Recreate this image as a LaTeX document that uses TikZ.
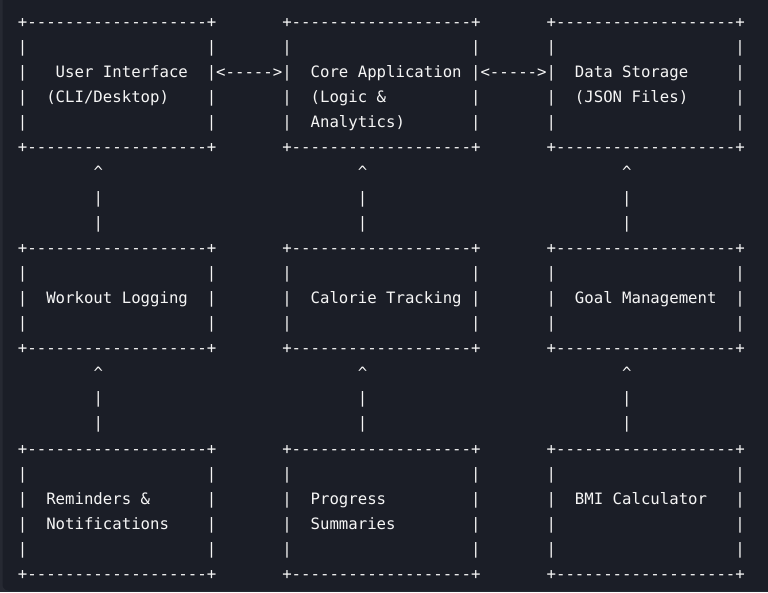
\documentclass[tikz,border=0pt]{standalone}
\usepackage{fontspec}
\setmonofont{DejaVu Sans Mono}
\definecolor{termbg}{RGB}{27,30,39}
\definecolor{termedge}{RGB}{38,41,50}
\definecolor{termfg}{RGB}{246,246,246}
\newcommand{\edgerow}{+-------------------+}
\newcommand{\blankrow}{|~~~~~~~~~~~~~~~~~~~|}

\begin{document}
\begin{tikzpicture}[
        x=9.44pt, y=-25.1pt,
        every node/.style={inner sep=0pt, outer sep=0pt, text=termfg, align=left,
            font=\ttfamily\fontsize{15.68}{25.1}\selectfont\frenchspacing},
        box/.style={anchor=north west, yshift=17.57pt},
        link/.style={anchor=base west}
    ]

    \useasboundingbox (0pt,0pt) rectangle (768pt,-592pt);
    \fill[termedge] (0pt,0pt) rectangle (768pt,-592pt);
    \fill[termbg, rounded corners=6pt] (2.5pt,8pt) rectangle (776pt,-590.5pt);

    \begin{scope}[shift={(17.98pt,-27.3pt)}]
    % top row
    \node[box] (ui) at (0,0) {\strut\edgerow\\ \blankrow\\ |~~~User~Interface~~|\\ |~~(CLI/Desktop)~~~~|\\ \blankrow\\ \edgerow};
    \node[box] (core) at (28,0) {\strut\edgerow\\ \blankrow\\ |~~Core~Application~|\\ |~~(Logic~\&~~~~~~~~~|\\ |~~Analytics)~~~~~~~|\\ \edgerow};
    \node[box] (store) at (56,0) {\strut\edgerow\\ \blankrow\\ |~~Data~Storage~~~~~|\\ |~~(JSON~Files)~~~~~|\\ \blankrow\\ \edgerow};
    \node[link] (uicore) at (21,2) {<----->};
    \node[link] (corestore) at (49,2) {<----->};

    % middle row
    \node[box] (workout) at (0,9) {\strut\edgerow\\ \blankrow\\ |~~Workout~Logging~~|\\ \blankrow\\ \edgerow};
    \node[box] (calorie) at (28,9) {\strut\edgerow\\ \blankrow\\ |~~Calorie~Tracking~|\\ \blankrow\\ \edgerow};
    \node[box] (goal) at (56,9) {\strut\edgerow\\ \blankrow\\ |~~Goal~Management~~|\\ \blankrow\\ \edgerow};
    \node[box] (workoutui) at (8,6) {\strut\textasciicircum\\ |\\ |};
    \node[box] (caloriecore) at (36,6) {\strut\textasciicircum\\ |\\ |};
    \node[box] (goalstore) at (64,6) {\strut\textasciicircum\\ |\\ |};

    % bottom row
    \node[box] (remind) at (0,17) {\strut\edgerow\\ \blankrow\\ |~~Reminders~\&~~~~~~|\\ |~~Notifications~~~~|\\ \blankrow\\ \edgerow};
    \node[box] (progress) at (28,17) {\strut\edgerow\\ \blankrow\\ |~~Progress~~~~~~~~~|\\ |~~Summaries~~~~~~~~|\\ \blankrow\\ \edgerow};
    \node[box] (bmi) at (56,17) {\strut\edgerow\\ \blankrow\\ |~~BMI~Calculator~~~|\\ \blankrow\\ \blankrow\\ \edgerow};
    \node[box] (remindworkout) at (8,14) {\strut\textasciicircum\\ |\\ |};
    \node[box] (progresscalorie) at (36,14) {\strut\textasciicircum\\ |\\ |};
    \node[box] (bmigoal) at (64,14) {\strut\textasciicircum\\ |\\ |};
    \end{scope}

\end{tikzpicture}
\end{document}
